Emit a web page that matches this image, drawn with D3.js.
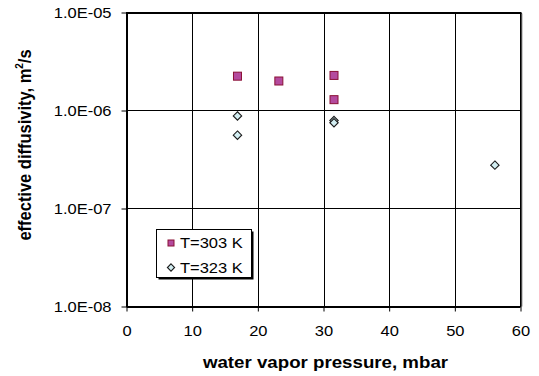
<!DOCTYPE html>
<html>
<head>
<meta charset="utf-8">
<script src="https://cdn.jsdelivr.net/npm/d3@7/dist/d3.min.js"></script>
<style>
  html, body { margin: 0; padding: 0; background: #fff; }
  svg { display: block; font-family: Arial, "Liberation Sans", sans-serif; }
</style>
</head>
<body>
<svg id="chart" width="539" height="376"></svg>
<script>
// Water vapour pressure (mbar) and effective diffusivity (m^2/s)
const series303_x = [16.9, 23.2, 31.6, 31.6];
const series303_y = [2.24e-6, 2.0e-6, 2.28e-6, 1.29e-6];
const series323_x = [16.9, 16.9, 31.6, 31.6, 56.1];
const series323_y = [8.8e-7, 5.6e-7, 7.9e-7, 7.5e-7, 2.77e-7];
const seriesNames = ["T=303 K", "T=323 K"];
const xTicks = [0, 10, 20, 30, 40, 50, 60];
const yTicks = [1e-8, 1e-7, 1e-6, 1e-5];
const yTickLabels = ["1.0E-08", "1.0E-07", "1.0E-06", "1.0E-05"];

const svg = d3.select("#chart");
const L = 126.5, R = 520.5, T = 12.5, B = 306.5;
const SX = 1.1; // horizontal widening of the lettering

const x = d3.scaleLinear().domain([0, 60]).range([L, R]);
const y = d3.scaleLog().domain([1e-8, 1e-5]).range([B, T]);

// widen a text element horizontally about its own x position
function widen(sel) {
  sel.each(function () {
    const t = d3.select(this);
    const tx = +t.attr("x") || 0;
    t.attr("x", 0).attr("transform", `translate(${tx},0) scale(${SX},1)`);
  });
}

// grid lines
const grid = svg.append("g").attr("stroke", "#000").attr("stroke-width", 1);
xTicks.forEach(t => {
  grid.append("line").attr("x1", Math.round(x(t)) + 0.5).attr("x2", Math.round(x(t)) + 0.5)
    .attr("y1", T).attr("y2", B);
});
yTicks.forEach(t => {
  grid.append("line").attr("x1", L).attr("x2", R)
    .attr("y1", Math.round(y(t)) + 0.5).attr("y2", Math.round(y(t)) + 0.5);
});

// plot frame with a soft grey edge on the right
svg.append("line").attr("x1", R + 1.5).attr("x2", R + 1.5).attr("y1", T + 1).attr("y2", B)
  .attr("stroke", "#999").attr("stroke-width", 1);
svg.append("rect").attr("x", L).attr("y", T).attr("width", R - L).attr("height", B - T)
  .attr("fill", "none").attr("stroke", "#000").attr("stroke-width", 1);

// axes
const xAxis = d3.axisBottom(x).tickValues(xTicks).tickSize(5).tickPadding(14).tickFormat(d3.format("d"));
const gx = svg.append("g").attr("transform", `translate(0,${B})`).call(xAxis);
gx.select(".domain").remove();
gx.selectAll("text").attr("font-size", 15).attr("fill", "#000")
  .attr("font-family", "Arial, 'Liberation Sans', sans-serif").call(widen);
gx.selectAll("line").attr("stroke", "#000");

const yAxis = d3.axisLeft(y).tickValues(yTicks).tickSize(5).tickPadding(10)
  .tickFormat((d, i) => yTickLabels[i]);
const gy = svg.append("g").attr("transform", `translate(${L},0)`).call(yAxis);
gy.select(".domain").remove();
gy.selectAll("text").attr("font-size", 15).attr("fill", "#000")
  .attr("font-family", "Arial, 'Liberation Sans', sans-serif").call(widen);
gy.selectAll("line").attr("stroke", "#000");

// axis titles
svg.append("text").attr("x", 0).attr("y", 368).attr("text-anchor", "middle")
  .attr("transform", `translate(${(L + R) / 2 + 2},0) scale(${SX},1)`)
  .attr("font-size", 17).attr("font-weight", "bold").text("water vapor pressure, mbar");

const yt = svg.append("text").attr("transform", `translate(30.5,145) scale(${SX},1) rotate(-90)`)
  .attr("text-anchor", "middle").attr("font-size", 16.5).attr("font-weight", "bold");
yt.append("tspan").text("effective diffusivity, m");
yt.append("tspan").attr("font-size", 10).attr("dy", -7).text("2");
yt.append("tspan").attr("dy", 7).text("/s");

// markers
function square(g, cx, cy, s) {
  g.append("rect").attr("x", cx - s / 2).attr("y", cy - s / 2).attr("width", s).attr("height", s)
    .attr("fill", "#B44A9E").attr("stroke", "#8A1035").attr("stroke-width", 1);
}
function diamond(g, cx, cy, r) {
  g.append("path").attr("d", `M${cx},${cy - r}L${cx + r},${cy}L${cx},${cy + r}L${cx - r},${cy}Z`)
    .attr("fill", "#D3EEF2").attr("stroke", "#1a1a1a").attr("stroke-width", 1.1);
}

const pts = svg.append("g");
series323_x.forEach((v, i) => diamond(pts, x(v), y(series323_y[i]), 4.2));
series303_x.forEach((v, i) => square(pts, x(v), y(series303_y[i]), 8));

// legend
const lg = svg.append("g");
lg.append("rect").attr("x", 158.5).attr("y", 231.5).attr("width", 95).attr("height", 48).attr("fill", "#000");
lg.append("rect").attr("x", 156.5).attr("y", 229.5).attr("width", 95).attr("height", 48)
  .attr("fill", "#fff").attr("stroke", "#000").attr("stroke-width", 1);
square(lg, 171, 243, 6);
diamond(lg, 171, 267.5, 3.6);
lg.append("text").attr("x", 180).attr("y", 248).attr("font-size", 15).text(seriesNames[0]).call(widen);
lg.append("text").attr("x", 180).attr("y", 273).attr("font-size", 15).text(seriesNames[1]).call(widen);
</script>
</body>
</html>
